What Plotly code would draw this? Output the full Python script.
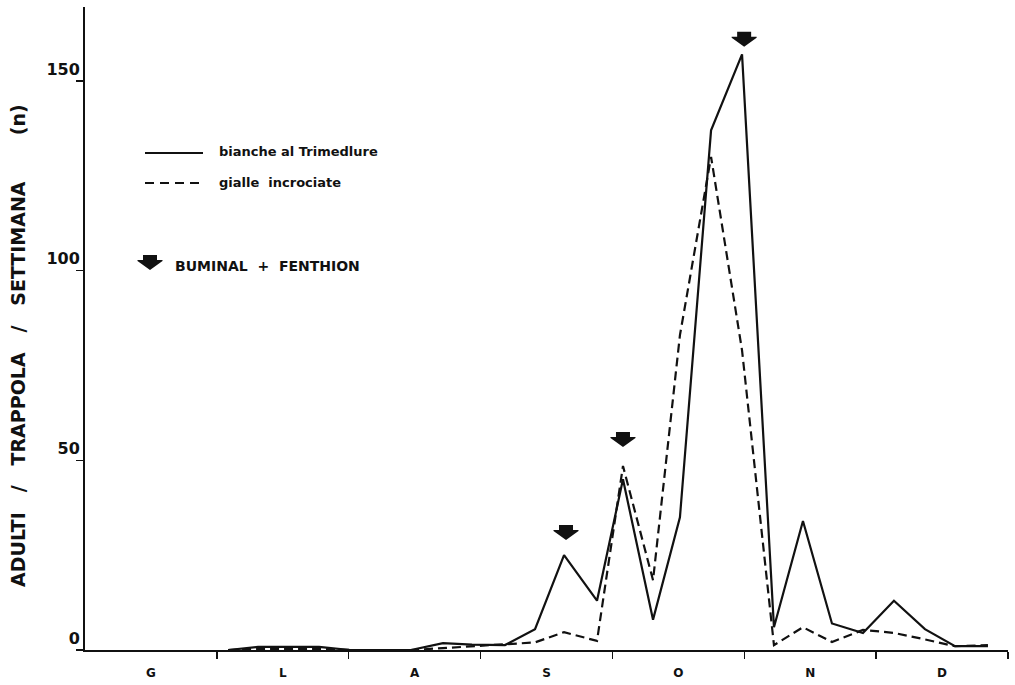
import plotly.graph_objects as go

# ---- data ----
months = ["G", "L", "A", "S", "O", "N", "D"]
month_centers = [0.5, 1.5, 2.5, 3.5, 4.5, 5.5, 6.5]
month_bounds = [1, 2, 3, 4, 5, 6, 7]

# weekly sampling positions (in month units, 0 = start of June)
week_pos = [1.085, 1.312, 1.547, 1.775, 2.010, 2.237, 2.472, 2.715, 2.935,
            3.185, 3.413, 3.633, 3.883, 4.080, 4.308, 4.512, 4.748, 4.983,
            5.225, 5.445, 5.665, 5.900, 6.135, 6.370, 6.598, 6.848]

bianche = [0, 0.8, 0.8, 0.8, 0, 0, 0, 1.8, 1.4, 1.3, 5.5, 25, 13, 45, 8,
           35, 137, 157, 6, 34, 7, 4.5, 13, 5.5, 1, 1]

gialle = [0, 0.3, 0.3, 0.3, 0, 0, 0, 0.5, 1.0, 1.5, 2, 4.7, 2.4, 48.5, 18.4,
          83, 130, 79, 1.3, 6, 2.1, 5.3, 4.5, 2.8, 1, 1.3]

treat_x = [3.648, 4.080, 4.999]
treat_y = [29, 53.5, 159]

yticks = [0, 50, 100, 150]

INK = "#111111"
FONT = "DejaVu Sans"

fig = go.Figure()
fig.add_trace(go.Scatter(x=week_pos, y=bianche, mode="lines",
                         line=dict(color=INK, width=2.2), showlegend=False,
                         hoverinfo="skip"))
fig.add_trace(go.Scatter(x=week_pos, y=gialle, mode="lines",
                         line=dict(color=INK, width=2.2, dash="9px,5px"),
                         showlegend=False, hoverinfo="skip"))

arrow_path = "M0,0 L-12.5,9 L-12.5,10 L-7,10 L-7,15 L7,15 L7,10 L12.5,10 L12.5,9 Z"
shapes = []
for tx, ty in zip(treat_x, treat_y):
    shapes.append(dict(type="path", xref="x", yref="y", xsizemode="pixel",
                       ysizemode="pixel", xanchor=tx, yanchor=ty,
                       path=arrow_path, fillcolor=INK, line=dict(width=0)))

# legend (drawn manually)
L, PW, B, PH = 85, 923, 650, 643
def px(x):
    return (x - L) / PW
def py(y):
    return (B - y) / PH

shapes.append(dict(type="line", xref="paper", yref="paper", x0=px(145), x1=px(203),
                   y0=py(153), y1=py(153), line=dict(color=INK, width=2)))
shapes.append(dict(type="line", xref="paper", yref="paper", x0=px(145), x1=px(203),
                   y0=py(183), y1=py(183), line=dict(color=INK, width=2, dash="9px,6px")))
shapes.append(dict(type="path", xref="paper", yref="paper", xsizemode="pixel",
                   ysizemode="pixel", xanchor=px(150), yanchor=py(270),
                   path=arrow_path, fillcolor=INK, line=dict(width=0)))

annotations = [
    dict(text="bianche al Trimedlure", xref="paper", yref="paper", x=px(217), y=py(152),
         xanchor="left", yanchor="middle", showarrow=False,
         font=dict(family=FONT, size=13, color=INK, weight="bold")),
    dict(text="gialle\u00a0 incrociate", xref="paper", yref="paper", x=px(217), y=py(182),
         xanchor="left", yanchor="middle", showarrow=False,
         font=dict(family=FONT, size=13, color=INK, weight="bold")),
    dict(text="BUMINAL\u00a0 +\u00a0 FENTHION", xref="paper", yref="paper", x=px(173), y=py(266),
         xanchor="left", yanchor="middle", showarrow=False,
         font=dict(family=FONT, size=14, color=INK, weight="bold")),
    dict(text="ADULTI\u00a0\u00a0 /\u00a0\u00a0 TRAPPOLA\u00a0\u00a0 /\u00a0\u00a0 SETTIMANA\u00a0\u00a0\u00a0\u00a0\u00a0\u00a0 (n)",
         xref="paper", yref="paper", x=0, xshift=-67, y=py(346), textangle=-90,
         xanchor="center", yanchor="middle", showarrow=False,
         font=dict(family=FONT, size=19, color=INK, weight="bold")),
]

fig.update_layout(
    width=1015, height=685,
    margin=dict(l=85, r=7, t=7, b=35, autoexpand=False),
    paper_bgcolor="white", plot_bgcolor="white",
    shapes=shapes, annotations=annotations,
    hovermode=False,
    xaxis=dict(range=[0, 7], showline=True, linecolor=INK, linewidth=2,
               automargin=False,
               tickmode="array", tickvals=month_centers, ticktext=months, ticks="",
               ticklabelstandoff=11,
               tickfont=dict(family=FONT, size=12, color=INK, weight="bold"),
               minor=dict(tickmode="array", tickvals=month_bounds, ticks="outside",
                          ticklen=7, tickwidth=1.5, tickcolor=INK, showgrid=False),
               showgrid=False, zeroline=False, fixedrange=True),
    yaxis=dict(range=[0, 169.5], showline=True, linecolor=INK, linewidth=2,
               automargin=False,
               tickmode="array", tickvals=yticks, ticks="outside", ticklen=7,
               tickwidth=1.5, tickcolor=INK, ticklabelposition="outside top",
               tickfont=dict(family=FONT, size=16, color=INK, weight="bold"),
               showgrid=False, zeroline=False, fixedrange=True),
)

fig.write_html("out.html", config={"displayModeBar": False, "staticPlot": True},
               post_script="document.body.style.margin='0';")
